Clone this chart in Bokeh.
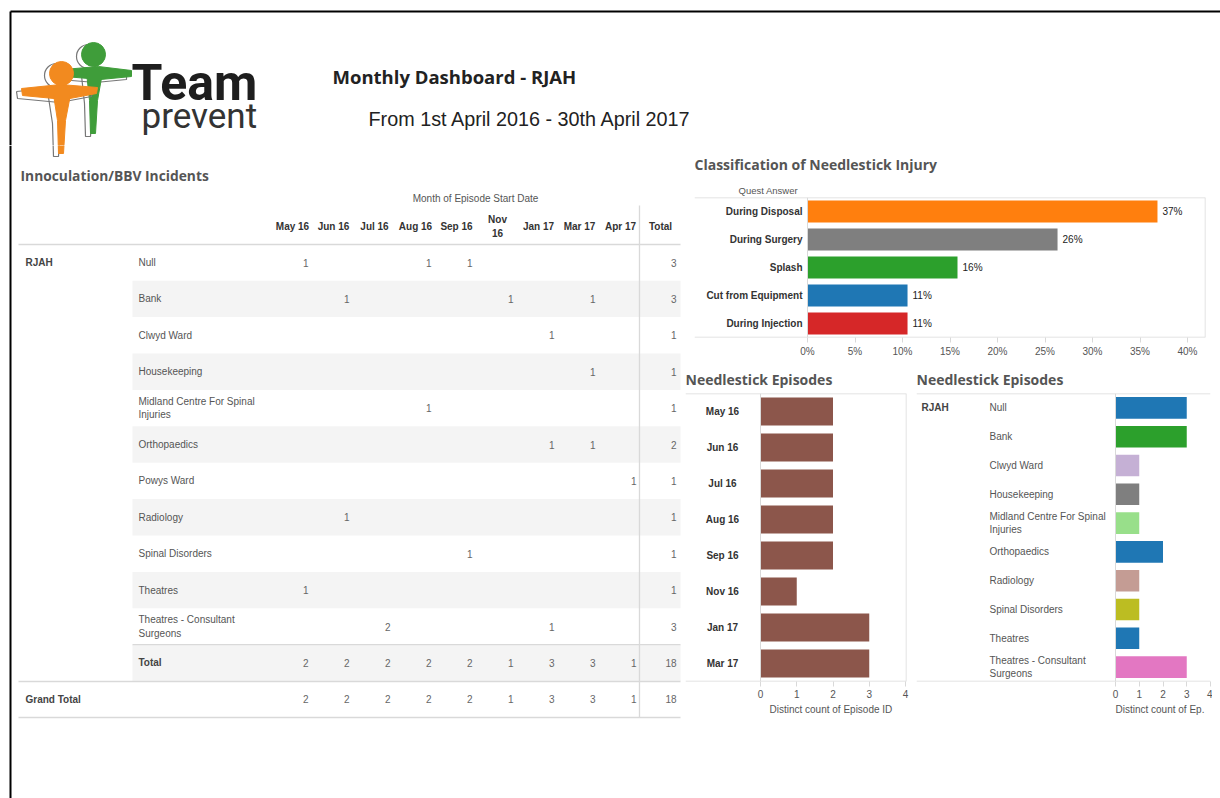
import textwrap
from bokeh.plotting import figure
from bokeh.layouts import row, column
from bokeh.models import (ColumnDataSource, Range1d, FactorRange, FixedTicker,
                          PrintfTickFormatter, Span, Title)
from bokeh.core.properties import value
from bokeh.embed import file_html
from bokeh.resources import INLINE

# ---------------- data ----------------
months = ["May 16", "Jun 16", "Jul 16", "Aug 16", "Sep 16", "Nov 16", "Jan 17", "Mar 17", "Apr 17"]
month_headers = ["May 16", "Jun 16", "Jul 16", "Aug 16", "Sep 16", "Nov\n16", "Jan 17", "Mar 17", "Apr 17"]
departments = ["Null", "Bank", "Clwyd Ward", "Housekeeping", "Midland Centre For Spinal Injuries",
               "Orthopaedics", "Powys Ward", "Radiology", "Spinal Disorders", "Theatres",
               "Theatres - Consultant Surgeons"]
counts = [
    [1, 0, 0, 1, 1, 0, 0, 0, 0],   # Null
    [0, 1, 0, 0, 0, 1, 0, 1, 0],   # Bank
    [0, 0, 0, 0, 0, 0, 1, 0, 0],   # Clwyd Ward
    [0, 0, 0, 0, 0, 0, 0, 1, 0],   # Housekeeping
    [0, 0, 0, 1, 0, 0, 0, 0, 0],   # Midland Centre
    [0, 0, 0, 0, 0, 0, 1, 1, 0],   # Orthopaedics
    [0, 0, 0, 0, 0, 0, 0, 0, 1],   # Powys Ward
    [0, 1, 0, 0, 0, 0, 0, 0, 0],   # Radiology
    [0, 0, 0, 0, 1, 0, 0, 0, 0],   # Spinal Disorders
    [1, 0, 0, 0, 0, 0, 0, 0, 0],   # Theatres
    [0, 0, 2, 0, 0, 0, 1, 0, 0],   # Theatres - Consultant Surgeons
]
quest_answers = ["During Disposal", "During Surgery", "Splash", "Cut from Equipment", "During Injection"]
quest_share = [36.84, 26.32, 15.79, 10.53, 10.53]
quest_colors = ["#ff7f0e", "#7f7f7f", "#2ca02c", "#1f77b4", "#d62728"]
pct_ticks = [0, 5, 10, 15, 20, 25, 30, 35, 40]

ep_months = ["May 16", "Jun 16", "Jul 16", "Aug 16", "Sep 16", "Nov 16", "Jan 17", "Mar 17"]
ep_month_counts = [2, 2, 2, 2, 2, 1, 3, 3]
ep_depts = ["Null", "Bank", "Clwyd Ward", "Housekeeping", "Midland Centre For Spinal Injuries",
            "Orthopaedics", "Radiology", "Spinal Disorders", "Theatres", "Theatres - Consultant Surgeons"]
ep_dept_counts = [3, 3, 1, 1, 1, 2, 1, 1, 1, 3]
ep_dept_colors = ["#1f77b4", "#2ca02c", "#c5b0d5", "#7f7f7f", "#98df8a",
                  "#1f77b4", "#c49c94", "#bcbd22", "#1f77b4", "#e377c2"]
count_ticks = [0, 1, 2, 3, 4]

TITLE_FONT = "Open Sans"
BODY_FONT = "Liberation Sans"
TITLE_COLOR = "#555555"
LINE_COLOR = "#d9d9d9"
HDR_H = 145


def wrap(s, w=26):
    return "\n".join(textwrap.wrap(s, w))


def canvas(w, h, x0, y0):
    p = figure(width=w, height=h, x_range=Range1d(x0, x0 + w), y_range=Range1d(y0 + h, y0),
               title=None, output_backend="svg", toolbar_location=None,
               x_axis_location=None, y_axis_location=None, min_border=0)
    p.grid.visible = False
    p.outline_line_color = None
    return p


def shift(pts, dx, dy):
    return [p[0] + dx for p in pts], [p[1] + dy for p in pts]


def draw_logo(p):
    g_arms = [(63, 69), (98, 66), (131, 70), (131, 76), (100, 79), (64, 76)]
    g_body = [(86, 72), (102, 72), (97, 100), (95, 133), (90, 133), (89, 100)]
    o_arms = [(21, 88), (60, 84), (97, 87), (96, 93), (64, 99), (22, 95)]
    o_body = [(53, 94), (70, 94), (65, 120), (63, 153), (58, 153), (57, 120)]
    for arms, body, head, col in [(g_arms, g_body, (93, 54), "#3f9d3a"), (o_arms, o_body, (61, 73), "#f28a1f")]:
        for shape in (arms, body):
            xs, ys = shift(shape + [shape[0]], -5, 3)
            p.line(xs, ys, line_color="#777777", line_width=1.2)
        p.circle(x=[head[0] - 5], y=[head[1] + 2], radius=12, fill_color=None, line_color="#777777", line_width=1.2)
        for shape in (arms, body):
            xs, ys = shift(shape, 0, 0)
            p.patch(xs, ys, fill_color=col, line_color=col)
        p.circle(x=[head[0]], y=[head[1]], radius=12, fill_color=col, line_color=col)


# ---------------- header ----------------
hdr = canvas(1220, HDR_H, 0, 0)
hdr.segment(x0=[10, 10], y0=[11, 11], x1=[1220, 10], y1=[11, HDR_H], line_color="black", line_width=2)
draw_logo(hdr)
hdr.text(x=[131], y=[82], text=["Team"], text_font=value("Roboto"), text_font_style="bold",
         text_font_size="50px", text_color="#1e1e1e", text_baseline="middle")
hdr.text(x=[141], y=[116], text=["prevent"], text_font=value("Roboto"),
         text_font_size="35px", text_color="#333333", text_baseline="middle")
hdr.text(x=[332], y=[76], text=["Monthly Dashboard  - RJAH"], text_font=value(TITLE_FONT),
         text_font_style="bold", text_font_size="18.5px", text_color="#222222", text_baseline="middle")
hdr.text(x=[368], y=[118], text=["From 1st April 2016 - 30th April 2017"], text_font=value(BODY_FONT),
         text_font_size="19.8px", text_color="#222222", text_baseline="middle")

# ---------------- table ----------------
tbl = canvas(683, 798 - HDR_H, 0, HDR_H)
tbl.segment(x0=[10], y0=[HDR_H], x1=[10], y1=[798], line_color="black", line_width=2)
draw_logo(tbl)

ROW0, PITCH = 262.0, 36.4
COL0, COLW = 272.0, 41.0
TOT_L = 639.0
n_rows = len(departments)
row_c = [ROW0 + i * PITCH for i in range(n_rows + 2)]

band_rows = [i for i in range(n_rows + 1) if i % 2 == 1]
tbl.quad(left=[132] * len(band_rows), right=[680] * len(band_rows),
         top=[row_c[i] - PITCH / 2 for i in band_rows], bottom=[row_c[i] + PITCH / 2 for i in band_rows],
         fill_color="#f4f4f4", line_color=None)

tbl.segment(x0=[18, 132, 18, 18, TOT_L], y0=[244, row_c[n_rows] - PITCH / 2, 681, 717, 205],
            x1=[680, 680, 680, 680, TOT_L], y1=[244, row_c[n_rows] - PITCH / 2, 681, 717, 717],
            line_color=LINE_COLOR, line_width=1.3)

tbl.text(x=[20], y=[175], text=["Innoculation/BBV Incidents"], text_font=value(TITLE_FONT),
         text_font_style="bold", text_font_size="13.8px", text_color=TITLE_COLOR, text_baseline="middle")
tbl.text(x=[475], y=[198], text=["Month of Episode Start Date"], text_font=value(BODY_FONT),
         text_font_size="10px", text_color="#555555", text_align="center", text_baseline="middle")

head_x = [COL0 + COLW * j + 20 for j in range(len(months))] + [TOT_L + 21]
tbl.text(x=head_x, y=[226] * len(head_x), text=month_headers + ["Total"], text_font=value(BODY_FONT),
         text_font_style="bold", text_font_size="10px", text_color="#333333",
         text_align="center", text_baseline="middle")

tbl.text(x=[138] * n_rows, y=row_c[:n_rows], text=[wrap(d) for d in departments],
         text_font=value(BODY_FONT), text_font_size="10px", text_color="#555555", text_baseline="middle")
tbl.text(x=[25, 138, 25], y=[row_c[0], row_c[n_rows], row_c[n_rows + 1]], text=["RJAH", "Total", "Grand Total"],
         text_font=value(BODY_FONT), text_font_style="bold", text_font_size="10px",
         text_color="#444444", text_baseline="middle")

col_totals = [sum(r[j] for r in counts) for j in range(len(months))]
grand = sum(col_totals)
nx, ny, nt = [], [], []
for i, r in enumerate(counts):
    for j, v in enumerate(r):
        if v:
            nx.append(COL0 + COLW * j + 36); ny.append(row_c[i]); nt.append(str(v))
    nx.append(TOT_L + 37); ny.append(row_c[i]); nt.append(str(sum(r)))
for k in (n_rows, n_rows + 1):
    for j, v in enumerate(col_totals):
        nx.append(COL0 + COLW * j + 36); ny.append(row_c[k]); nt.append(str(v))
    nx.append(TOT_L + 37); ny.append(row_c[k]); nt.append(str(grand))
tbl.text(x=nx, y=ny, text=nt, text_font=value(BODY_FONT), text_font_size="10px", text_color="#666666",
         text_align="right", text_baseline="middle")


def chart(width, height, factors, x_lo, x_hi, left, right, top, bottom):
    p = figure(width=width, height=height, title=None, output_backend="svg", toolbar_location=None,
               y_range=FactorRange(factors=list(reversed(factors))), x_range=Range1d(x_lo, x_hi),
               y_axis_location=None, min_border_left=left, min_border_right=right,
               min_border_top=top, min_border_bottom=bottom)
    p.grid.visible = False
    p.outline_line_color = None
    ax = p.xaxis[0]
    ax.major_label_text_font = BODY_FONT
    ax.major_label_text_font_size = "10px"
    ax.major_label_text_color = "#555555"
    ax.axis_line_color = None
    ax.major_tick_line_color = LINE_COLOR
    ax.major_tick_out = 5
    ax.major_tick_in = 0
    ax.minor_tick_out = 0
    ax.minor_tick_in = 0
    ax.major_label_standoff = 3
    n = len(factors)
    p.add_layout(Span(location=n, dimension="width", line_color=LINE_COLOR, line_width=1.5))
    p.add_layout(Span(location=0, dimension="width", line_color=LINE_COLOR, line_width=1.5))
    p.add_layout(Span(location=0, dimension="height", line_color=LINE_COLOR, line_width=1))
    return p


def add_title(p, text, offset, standoff, size="14px", font=TITLE_FONT, bold=True, color=TITLE_COLOR, side="above"):
    p.add_layout(Title(text=text, align="left", offset=offset, standoff=standoff, text_font=font,
                       text_font_size=size, text_font_style="bold" if bold else "normal",
                       text_color=color), side)


# ---------------- classification chart ----------------
C_L, C_ZERO, C_R, C_PX = 694, 807, 1205, 9.5
C_TOP = 197 - HDR_H
cls = chart(529, 362 - HDR_H, quest_answers, -(C_ZERO - C_L) / C_PX, (C_R - C_ZERO) / C_PX,
            C_L - 683, 1212 - C_R, C_TOP, 25)
csrc = ColumnDataSource(dict(cat=quest_answers, share=quest_share, color=quest_colors,
                             label=["%.0f%%" % v for v in quest_share]))
cls.hbar(y="cat", right="share", left=0, height=0.79, fill_color="color", line_color=None, source=csrc)
cls.text(x="share", y="cat", text="label", x_offset=5, source=csrc, text_font=value(BODY_FONT),
         text_font_size="10px", text_color="#222222", text_baseline="middle")
cls.text(x=-5 / C_PX, y="cat", text="cat", source=csrc, text_font=value(BODY_FONT), text_font_style="bold",
         text_font_size="10px", text_color="#333333", text_align="right", text_baseline="middle")
cls.add_layout(Span(location=(C_R - C_ZERO) / C_PX, dimension="height", line_color=LINE_COLOR, line_width=1.5))
cls.xaxis.ticker = FixedTicker(ticks=pct_ticks)
cls.xaxis.formatter = PrintfTickFormatter(format="%d%%")
add_title(cls, "Quest Answer", 738 - C_L, 4, size="9.5px", font=BODY_FONT, bold=False)
add_title(cls, "Classification of Needlestick Injury", 0, 13)

# ---------------- episodes by month ----------------
E1_L, E1_ZERO, E1_R, E1_PX = 685, 760, 906, 36.25
ep1 = chart(227, 436, ep_months, -(E1_ZERO - E1_L) / E1_PX, (E1_R - E1_ZERO) / E1_PX,
            E1_L - 683, 910 - E1_R, 31, 117)
ep1.hbar(y=ep_months, right=ep_month_counts, left=0, height=0.78, fill_color="#8c564b", line_color=None)
ep1.text(x=[(722 - E1_ZERO) / E1_PX] * len(ep_months), y=ep_months, text=ep_months,
         text_font=value(BODY_FONT), text_font_style="bold", text_font_size="10px", text_color="#333333",
         text_align="center", text_baseline="middle")
ep1.add_layout(Span(location=(E1_R - E1_ZERO) / E1_PX, dimension="height", line_color=LINE_COLOR, line_width=1.5))
ep1.xaxis.ticker = FixedTicker(ticks=count_ticks)
add_title(ep1, "Needlestick Episodes", 0, 9)
add_title(ep1, "Distinct count of Episode ID", 769 - E1_L, 2, size="10px", font=BODY_FONT, bold=False,
          color="#555555", side="below")

# ---------------- episodes by department ----------------
E2_L, E2_ZERO, E2_R, E2_PX = 916, 1115, 1210, 23.75
ep2 = chart(302, 436, ep_depts, -(E2_ZERO - E2_L) / E2_PX, (E2_R - E2_ZERO) / E2_PX,
            E2_L - 910, 1212 - E2_R, 31, 117)
ep2.hbar(y=ep_depts, right=ep_dept_counts, left=0, height=0.75, fill_color=ep_dept_colors, line_color=None)
ep2.text(x=[(989 - E2_ZERO) / E2_PX] * len(ep_depts), y=ep_depts, text=[wrap(d) for d in ep_depts],
         text_font=value(BODY_FONT), text_font_size="10px", text_color="#555555", text_baseline="middle")
ep2.text(x=[(921 - E2_ZERO) / E2_PX], y=ep_depts[:1], text=["RJAH"],
         text_font=value(BODY_FONT), text_font_style="bold", text_font_size="10px", text_color="#444444",
         text_baseline="middle")
ep2.xaxis.ticker = FixedTicker(ticks=count_ticks)
add_title(ep2, "Needlestick Episodes", 0, 9)
add_title(ep2, "Distinct count of Ep.", E2_ZERO - E2_L, 2, size="10px", font=BODY_FONT, bold=False,
          color="#555555", side="below")

layout = column(hdr, row(tbl, column(cls, row(ep1, ep2))))
open("out.html", "w").write(file_html(layout, INLINE))
